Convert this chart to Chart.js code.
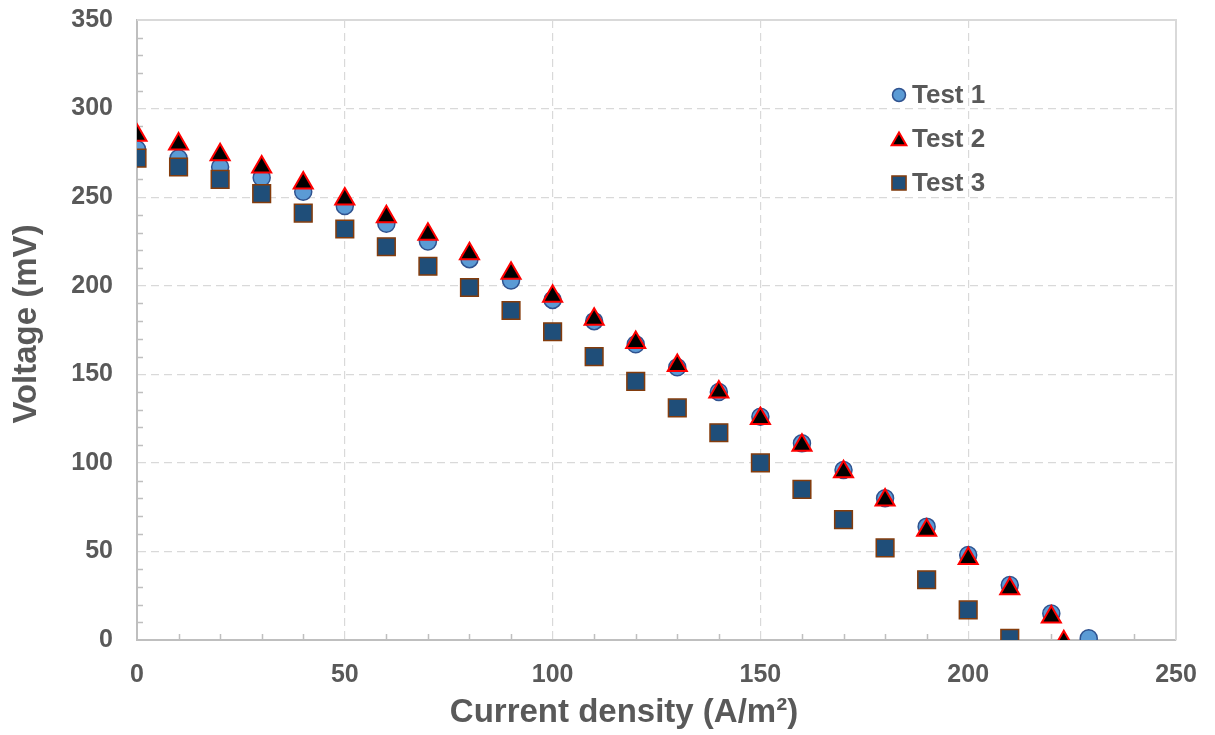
<!DOCTYPE html>
<html>
<head>
<meta charset="utf-8">
<script src="https://cdn.jsdelivr.net/npm/chart.js@4.4.1/dist/chart.umd.min.js"></script>
<style>
  html, body { margin: 0; padding: 0; background: #fff; }
  #wrap { width: 1215px; height: 735px; }
</style>
</head>
<body>
<div id="wrap"><canvas id="iv-canvas" width="1215" height="735"></canvas></div>
<script>
// current density (A/m2) and voltage (mV)
var test1X = [0, 10, 20, 30, 40, 50, 60, 70, 80, 90, 100, 110, 120, 130, 140, 150, 160, 170, 180, 190, 200, 210, 220, 229];
var test1Y = [277, 272, 267, 261, 253, 245, 235, 225, 215, 203, 192, 180, 167, 154, 140, 126, 111, 96, 80, 64, 48, 31, 15, 1];

var test2X = [0, 10, 20, 30, 40, 50, 60, 70, 80, 90, 100, 110, 120, 130, 140, 150, 160, 170, 180, 190, 200, 210, 220, 223];
var test2Y = [285, 280, 274, 267, 258, 249, 239, 229, 218, 207, 194, 181, 168, 155, 140, 125, 110, 95, 79, 62, 46, 29, 13, -1];

var test3X = [0, 10, 20, 30, 40, 50, 60, 70, 80, 90, 100, 110, 120, 130, 140, 150, 160, 170, 180, 190, 200, 210];
var test3Y = [272, 267, 260, 252, 241, 232, 222, 211, 199, 186, 174, 160, 146, 131, 117, 100, 85, 68, 52, 34, 17, 1];

var seriesNames = ['Test 1', 'Test 2', 'Test 3'];
var xTitle = 'Current density (A/m²)';
var yTitle = 'Voltage (mV)';

function toPoints(xs, ys) {
    var pts = [];
    for (var i = 0; i < xs.length; i++) {
        pts.push({x: xs[i], y: ys[i]});
    }
    return pts;
}

var textGray = '#595959';
var fontFam = '"Liberation Sans", Arial, sans-serif';

// minor ticks on the inside of both axes + plot border top/right
var minorTicks = {
    id: 'minorTicks',
    beforeDatasetsDraw: function(chart) {
        var ctx = chart.ctx;
        var area = chart.chartArea;
        var xs = chart.scales.x, ys = chart.scales.y;
        ctx.save();
        ctx.strokeStyle = '#d9d9d9';
        ctx.lineWidth = 2;
        ctx.beginPath();
        ctx.moveTo(area.left, area.top);
        ctx.lineTo(area.right, area.top);
        ctx.lineTo(area.right, area.bottom);
        ctx.stroke();

        ctx.strokeStyle = '#bfbfbf';
        ctx.lineWidth = 1.5;
        ctx.beginPath();
        var v, p;
        for (v = 10; v < 250; v += 10) {
            if (v % 50 === 0) continue;
            p = Math.round(xs.getPixelForValue(v)) + 0.5;
            ctx.moveTo(p, area.bottom);
            ctx.lineTo(p, area.bottom - 6);
        }
        for (v = 10; v < 350; v += 10) {
            if (v % 50 === 0) continue;
            p = Math.round(ys.getPixelForValue(v)) + 0.5;
            ctx.moveTo(area.left, p);
            ctx.lineTo(area.left + 6, p);
        }
        ctx.stroke();
        ctx.restore();
    }
};

// axis titles sit a bit off the plot centre in the original
var axisTitles = {
    id: 'axisTitles',
    afterDraw: function(chart) {
        var ctx = chart.ctx;
        ctx.save();
        ctx.fillStyle = textGray;
        ctx.textAlign = 'center';
        ctx.textBaseline = 'middle';
        ctx.font = 'bold 33px ' + fontFam;
        ctx.fillText(xTitle, 624, 713);
        ctx.translate(27, 324);
        ctx.rotate(-Math.PI / 2);
        ctx.fillText(yTitle, 0, 0);
        ctx.restore();
    }
};

// legend sits inside the plot area, top right
var innerLegend = {
    id: 'innerLegend',
    afterDraw: function(chart) {
        var ctx = chart.ctx;
        var mx = 899, y0 = 95, step = 44;
        var sizes = {circle: 6.5, triangle: 8.5, rect: 10};
        ctx.save();
        chart.data.datasets.forEach(function(ds, i) {
            var cy = y0 + i * step;
            ctx.fillStyle = ds.backgroundColor;
            ctx.strokeStyle = ds.borderColor;
            ctx.lineWidth = ds.borderWidth;
            Chart.helpers.drawPoint(ctx, {
                pointStyle: ds.pointStyle,
                radius: sizes[ds.pointStyle],
                rotation: 0,
                borderWidth: ds.borderWidth
            }, mx, cy + (ds.pointStyle === 'triangle' ? 2 : 0));
            ctx.fillStyle = textGray;
            ctx.font = 'bold 26px ' + fontFam;
            ctx.textAlign = 'left';
            ctx.textBaseline = 'middle';
            ctx.fillText(ds.label, mx + 13, cy + 1);
        });
        ctx.restore();
    }
};

var ctx = document.getElementById('iv-canvas').getContext('2d');
var chartObj = new Chart(ctx, {
    type: 'scatter',
    data: {
        datasets: [{
            label: seriesNames[0],
            data: toPoints(test1X, test1Y),
            order: 3,
            pointStyle: 'circle',
            pointRadius: 8.5,
            backgroundColor: '#5b9bd5',
            borderColor: '#2f528f',
            borderWidth: 1.5
        }, {
            label: seriesNames[1],
            data: toPoints(test2X, test2Y),
            order: 2,
            pointStyle: 'triangle',
            pointRadius: 11,
            backgroundColor: '#000000',
            borderColor: '#ff0000',
            borderWidth: 2
        }, {
            label: seriesNames[2],
            data: toPoints(test3X, test3Y),
            order: 1,
            pointStyle: 'rect',
            pointRadius: 12.5,
            backgroundColor: '#1f4e79',
            borderColor: '#843c0c',
            borderWidth: 1.5
        }]
    },
    options: {
        responsive: false,
        animation: false,
        layout: { padding: { top: 20, right: 39, left: 0, bottom: 0 } },
        plugins: {
            legend: { display: false },
            tooltip: { enabled: false }
        },
        scales: {
            x: {
                type: 'linear',
                min: 0,
                max: 250,
                ticks: {
                    stepSize: 50,
                    color: textGray,
                    font: { family: fontFam, size: 25, weight: 'bold' },
                    padding: 20
                },
                grid: {
                    color: '#d9d9d9',
                    lineWidth: 1.2,
                    drawTicks: false
                },
                border: { display: true, color: '#bfbfbf', width: 2, dash: [8, 5] },
                title: { display: false },
                afterFit: function(scale) {
                    scale.height = 95;
                    scale.paddingLeft = 0;
                    scale.paddingRight = 0;
                }
            },
            y: {
                type: 'linear',
                min: 0,
                max: 350,
                ticks: {
                    stepSize: 50,
                    color: textGray,
                    font: { family: fontFam, size: 25, weight: 'bold' },
                    padding: 24
                },
                grid: {
                    color: '#d9d9d9',
                    lineWidth: 1.2,
                    drawTicks: false
                },
                border: { display: true, color: '#bfbfbf', width: 2, dash: [8, 5] },
                title: { display: false },
                afterFit: function(scale) {
                    scale.width = 137;
                    scale.paddingTop = 0;
                    scale.paddingBottom = 0;
                }
            }
        }
    },
    plugins: [minorTicks, axisTitles, innerLegend]
});
</script>
</body>
</html>
